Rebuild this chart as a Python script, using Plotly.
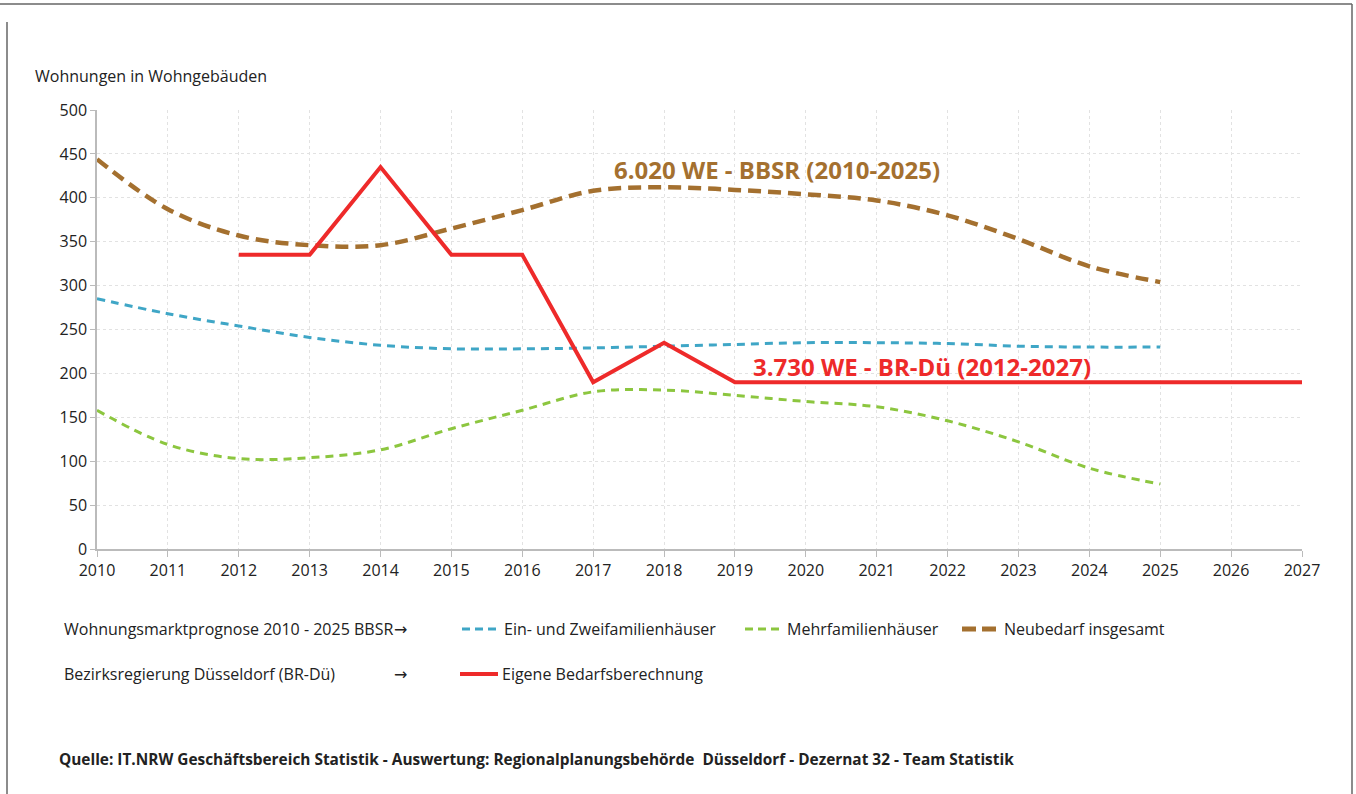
import plotly.graph_objects as go

years = list(range(2010, 2028))
bbsr_years = list(range(2010, 2026))
brdu_years = list(range(2012, 2028))

ein_zwei = [285, 268, 254, 241, 232, 228, 228, 229, 231, 233, 235, 235, 234, 231, 230, 230]
mehrfam = [158, 119, 103, 104, 113, 137, 158, 179, 181, 175, 168, 162, 146, 122, 92, 74]
neubedarf = [444, 387, 357, 346, 346, 365, 386, 408, 412, 409, 404, 397, 380, 353, 322, 304]
eigene = [335, 335, 435, 335, 335, 190, 235, 190, 190, 190, 190, 190, 190, 190, 190, 190]

COLORS = {
    'ein': '#3fa6c6',
    'mehr': '#8cc63f',
    'neu': '#a4702f',
    'eigen': '#ee2a2a',
}

W, H = 1356, 794
L, R, T, B = 97, 1302, 110, 549  # plot area in pixels
FONT = 'Open Sans'


def px(x):
    return (x - L) / (R - L)


def py(y):
    return (B - y) / (B - T)


fig = go.Figure()
fig.add_trace(go.Scatter(x=bbsr_years, y=ein_zwei, mode='lines', line_shape='spline',
                         line=dict(color=COLORS['ein'], width=3, dash='8px,6px'), name='Ein- und Zweifamilienhäuser'))
fig.add_trace(go.Scatter(x=bbsr_years, y=mehrfam, mode='lines', line_shape='spline',
                         line=dict(color=COLORS['mehr'], width=3, dash='8px,6px'), name='Mehrfamilienhäuser'))
fig.add_trace(go.Scatter(x=bbsr_years, y=neubedarf, mode='lines', line_shape='spline',
                         line=dict(color=COLORS['neu'], width=4.5, dash='13px,7px'), name='Neubedarf insgesamt'))
fig.add_trace(go.Scatter(x=brdu_years, y=eigene, mode='lines',
                         line=dict(color=COLORS['eigen'], width=4), name='Eigene Bedarfsberechnung'))

fig.add_annotation(x=2019.6, y=432, text='<b>6.020 WE - BBSR (2010-2025)</b>', showarrow=False,
                   font=dict(family=FONT, size=24, color=COLORS['neu']))
fig.add_annotation(x=2021.64, y=208, text='<b>3.730 WE - BR-Dü (2012-2027)</b>', showarrow=False,
                   font=dict(family=FONT, size=24, color=COLORS['eigen']))

# y-axis title
fig.add_annotation(xref='paper', yref='paper', x=px(33), y=py(76), xanchor='left', yanchor='middle',
                   text='Wohnungen in Wohngebäuden', showarrow=False, font=dict(family=FONT, size=16, color='#222'))

# custom legend
leg_font = dict(family=FONT, size=16, color='#222')
arrow_font = dict(family='DejaVu Sans', size=16, color='#222')
fig.add_annotation(xref='paper', yref='paper', x=px(62), y=py(629), xanchor='left', yanchor='middle',
                   text='Wohnungsmarktprognose 2010 - 2025 BBSR', showarrow=False, font=leg_font)
fig.add_annotation(xref='paper', yref='paper', x=px(392), y=py(629), xanchor='left', yanchor='middle',
                   text='→', showarrow=False, font=arrow_font)
fig.add_annotation(xref='paper', yref='paper', x=px(62), y=py(674), xanchor='left', yanchor='middle',
                   text='Bezirksregierung Düsseldorf (BR-Dü)', showarrow=False, font=leg_font)
fig.add_annotation(xref='paper', yref='paper', x=px(392), y=py(674), xanchor='left', yanchor='middle',
                   text='→', showarrow=False, font=arrow_font)

legend_items = [
    (462, 629, 'ein', 3, '8px,5px', 'Ein- und Zweifamilienhäuser'),
    (745, 629, 'mehr', 3, '8px,5px', 'Mehrfamilienhäuser'),
    (962, 629, 'neu', 5, '14px,6px', 'Neubedarf insgesamt'),
    (460, 674, 'eigen', 4, 'solid', 'Eigene Bedarfsberechnung'),
]
for x0, yy, key, w, dash, label in legend_items:
    fig.add_shape(type='line', xref='paper', yref='paper', x0=px(x0), x1=px(x0 + 38), y0=py(yy), y1=py(yy),
                  line=dict(color=COLORS[key], width=w, dash=dash))
    fig.add_annotation(xref='paper', yref='paper', x=px(x0 + 40), y=py(yy), xanchor='left', yanchor='middle',
                       text=label, showarrow=False, font=leg_font)

fig.add_annotation(xref='paper', yref='paper', x=px(57), y=py(759), xanchor='left', yanchor='middle',
                   text='<b>Quelle: IT.NRW Geschäftsbereich Statistik - Auswertung: Regionalplanungsbehörde  Düsseldorf - Dezernat 32 - Team Statistik</b>',
                   showarrow=False, font=dict(family=FONT, size=15.4, color='#222'))

# frame
frame = dict(color='#666', width=1.5)
fig.add_shape(type='line', xref='paper', yref='paper', x0=px(0), x1=px(1352), y0=py(4), y1=py(4), line=frame)
fig.add_shape(type='line', xref='paper', yref='paper', x0=px(7), x1=px(7), y0=py(22), y1=py(794), line=frame)
fig.add_shape(type='line', xref='paper', yref='paper', x0=px(1352), x1=px(1352), y0=py(4), y1=py(794), line=frame)

tick_font = dict(family=FONT, size=16, color='#222')
fig.update_xaxes(range=[2010, 2027], tickvals=years, showgrid=True, gridcolor='#e2e2e2', griddash='dot',
                 showline=True, linecolor='#bbbbbb', linewidth=1.5, ticks='outside', ticklen=6, tickcolor='#bbbbbb',
                 tickfont=tick_font, zeroline=False)
fig.update_yaxes(range=[0, 500], dtick=50, showgrid=True, gridcolor='#e2e2e2', griddash='dot',
                 showline=True, linecolor='#bbbbbb', linewidth=1.5, ticks='outside', ticklen=5, tickcolor='#bbbbbb',
                 tickfont=tick_font, zeroline=False)

fig.update_layout(width=W, height=H, margin=dict(l=L, r=W - R, t=T, b=H - B),
                  plot_bgcolor='white', paper_bgcolor='white', showlegend=False)

# drop the default page margin so the figure fills the window exactly
fig.write_html("out.html", config={'displayModeBar': False},
               post_script="document.body.style.margin='0';document.body.style.overflow='hidden';")
